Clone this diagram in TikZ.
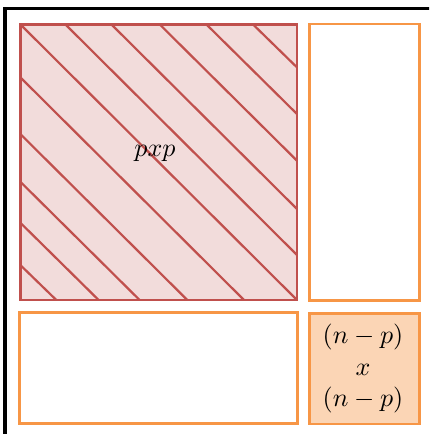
\documentclass[tikz,border=0pt]{standalone}
\definecolor{hred}{RGB}{192,80,77}
\definecolor{hpink}{RGB}{242,220,219}
\definecolor{borange}{RGB}{247,150,70}
\definecolor{lorange}{RGB}{251,213,181}
\tikzset{
  frame/.style={draw=black, line width=3.2pt},
  redbox/.style={draw=hred, fill=hpink, line width=2.6pt},
  hatch/.style={draw=hred, line width=2.2pt},
  orbox/.style={draw=borange, line width=2.8pt},
  lbl/.style={inner sep=0pt, scale=2.6, align=center}
}
\begin{document}
\begin{tikzpicture}[x=1pt,y=-1pt]
\clip (0,0) rectangle (429,434);
\fill[white] (0,0) rectangle (429,434);
\draw[frame] (5,8.5) rectangle (460,470);
% red square
\def\xa{20.5}\def\ya{24.5}\def\xb{297}\def\yb{300}
\path[redbox] (\xa,\ya) rectangle (\xb,\yb);
\begin{scope}
\clip (\xa,\ya) rectangle (\xb,\yb);
\foreach \d in {0,45,91,139.3,186,232.6}
  \draw[hatch] (\xa+\d,\ya) -- (\xb,\yb-\d);
\foreach \d in {53,109.7,157.4,198.4,240.7}
  \draw[hatch] (\xa,\ya+\d) -- (\xb-\d,\yb);
\end{scope}
\draw[draw=hred, line width=2.6pt] (\xa,\ya) rectangle (\xb,\yb);
\node[lbl] (pp) at (155,153) {$pxp$};
% orange boxes
\draw[orbox] (309.3,24) rectangle (419.3,300.5);
\draw[orbox] (19.5,312.8) rectangle (297.7,423.3);
\draw[orbox, fill=lorange] (309.3,313.3) rectangle (419.3,424);
\node[lbl] (nn) at (363,368.5) {$(n-p)$\\$x$\\$(n-p)$};
\end{tikzpicture}
\end{document}
